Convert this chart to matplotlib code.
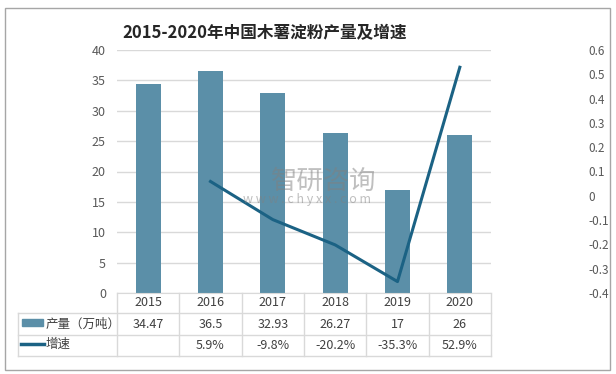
import matplotlib.pyplot as plt
from matplotlib.lines import Line2D
from matplotlib.patches import Rectangle

plt.rcParams['font.family'] = ['Noto Sans CJK SC', 'DejaVu Sans']

years = ['2015', '2016', '2017', '2018', '2019', '2020']
output = [34.47, 36.5, 32.93, 26.27, 17, 26]
growth = [None, 0.059, -0.098, -0.202, -0.353, 0.529]
output_labels = ['34.47', '36.5', '32.93', '26.27', '17', '26']
growth_labels = ['', '5.9%', '-9.8%', '-20.2%', '-35.3%', '52.9%']

bar_color = '#5b8fa8'
line_color = '#1b6284'
grid_color = '#d9d9d9'
text_color = '#595959'

W, H = 616, 374
fig = plt.figure(figsize=(W / 100, H / 100), dpi=100)


def fx(px):
    return px / W


def fy(py):
    return 1 - py / H


# outer frame
fig.add_artist(Rectangle((fx(5), fy(370)), fx(605), 362 / H, transform=fig.transFigure,
                         fill=False, edgecolor='#a6a6a6', linewidth=1))

left, right, top, bottom = 117, 491, 50, 293
ax = fig.add_axes([fx(left), fy(bottom), fx(right - left), (bottom - top) / H])
x = list(range(len(years)))
ax.bar(x, output, width=0.40, color=bar_color, zorder=2)
ax.set_xlim(-0.5, len(years) - 0.5)
ax.set_ylim(0, 40)
ax.set_yticks(range(0, 41, 5))
ax.set_xticks([])
ax.grid(True, axis='y', color=grid_color, linewidth=1, zorder=0)
for s in ['top', 'right', 'left']:
    ax.spines[s].set_visible(False)
ax.spines['bottom'].set_color(grid_color)
ax.tick_params(axis='y', length=0, labelsize=9, labelcolor=text_color, pad=8)

ax2 = ax.twinx()
gx = [i for i, g in zip(x, growth) if g is not None]
gy = [g for g in growth if g is not None]
ax2.plot(gx, gy, color=line_color, linewidth=2.2, zorder=3)
ax2.set_ylim(-0.4, 0.6)
ax2.set_yticks([i / 10 for i in range(-4, 7)])
ax2.set_yticklabels(['-0.4', '-0.3', '-0.2', '-0.1', '0', '0.1', '0.2', '0.3', '0.4', '0.5', '0.6'])
for s in ['top', 'right', 'left', 'bottom']:
    ax2.spines[s].set_visible(False)
ax2.tick_params(axis='y', length=0, labelsize=8.5, labelcolor=text_color, pad=70)

fig.text(fx(265), fy(33), '2015-2020年中国木薯淀粉产量及增速', ha='center', va='center',
         fontsize=12, fontweight='bold', color='#262626')

# watermark
fig.text(fx(324), fy(181), '智研咨询', ha='center', va='center', fontsize=19,
         color='#808080', alpha=0.5, zorder=5)
fig.text(fx(307), fy(200), 'w w w . c h y x x . c o m', ha='center', va='center',
         fontsize=9, color='#808080', alpha=0.5, zorder=5)

# data table
col_w = (right - left) / len(years)
rows_y = [293, 313, 335, 356]
tbl_left = 18
lc = grid_color
for yy in rows_y[1:]:
    fig.add_artist(Line2D([fx(tbl_left), fx(right)], [fy(yy), fy(yy)], color=lc, linewidth=1))
for i in range(len(years) + 1):
    xx = left + i * col_w
    fig.add_artist(Line2D([fx(xx), fx(xx)], [fy(rows_y[0]), fy(rows_y[3])], color=lc, linewidth=1))
fig.add_artist(Line2D([fx(tbl_left), fx(tbl_left)], [fy(rows_y[1]), fy(rows_y[3])], color=lc, linewidth=1))

for i, (yr, ol, gl) in enumerate(zip(years, output_labels, growth_labels)):
    cx = fx(left + (i + 0.5) * col_w)
    fig.text(cx, fy((rows_y[0] + rows_y[1]) / 2), yr, ha='center', va='center', fontsize=9, color='#404040')
    fig.text(cx, fy((rows_y[1] + rows_y[2]) / 2), ol, ha='center', va='center', fontsize=9, color='#404040')
    fig.text(cx, fy((rows_y[2] + rows_y[3]) / 2), gl, ha='center', va='center', fontsize=9, color='#404040')

# legend keys inside the table
fig.add_artist(Rectangle((fx(22), fy(326)), fx(21), 7 / H, transform=fig.transFigure,
                         color=bar_color))
fig.text(fx(46), fy(324), '产量（万吨）', ha='left', va='center', fontsize=9, color='#404040')
fig.add_artist(Line2D([fx(21), fx(44)], [fy(344), fy(344)], color=line_color, linewidth=2.5))
fig.text(fx(46), fy(344), '增速', ha='left', va='center', fontsize=9, color='#404040')

fig.savefig('out.png', dpi=100)
